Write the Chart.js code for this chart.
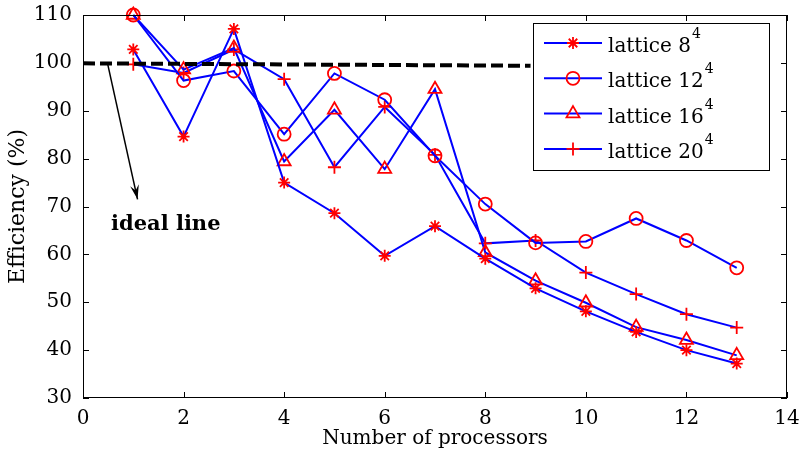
<!DOCTYPE html>
<html>
<head>
<meta charset="utf-8">
<title>Efficiency vs processors</title>
<script src="https://cdn.jsdelivr.net/npm/chart.js@4/dist/chart.umd.min.js"></script>
<style>
  html, body { margin: 0; padding: 0; background: #fff; }
  #wrap { width: 806px; height: 455px; }
</style>
</head>
<body>
<div id="wrap"><canvas id="chart" width="806" height="455"></canvas></div>
<script>
// measured efficiency per lattice size
const processors = [1, 2, 3, 4, 5, 6, 7, 8, 9, 10, 11, 12, 13];
const lattice8  = [102.8, 84.6, 107.1, 75.0, 68.6, 59.7, 65.9, 59.1, 52.9, 48.1, 43.8, 40.0, 37.2];
const lattice12 = [110.0, 96.3, 98.3, 85.1, 97.8, 92.3, 80.6, 70.5, 62.4, 62.7, 67.5, 62.9, 57.2];
const lattice16 = [110.0, 98.6, 103.1, 79.4, 90.2, 77.8, 94.5, 60.4, 54.5, 49.9, 44.8, 42.1, 38.9];
const lattice20 = [99.7, 97.9, 102.8, 96.6, 78.2, 90.8, 80.8, 62.3, 62.9, 56.2, 51.7, 47.5, 44.7];

const seriesNames = ['lattice 8', 'lattice 12', 'lattice 16', 'lattice 20'];
const seriesMarkers = ['star', 'circle', 'triangle', 'cross'];
const seriesRadius = [6, 6.5, 7.5, 6.5];
const seriesData = [lattice8, lattice12, lattice16, lattice20];

// ideal line endpoints
const idealX = [0, 8.9];
const idealY = [99.9, 99.4];

const xTicks = [0, 2, 4, 6, 8, 10, 12, 14];
const yTicks = [30, 40, 50, 60, 70, 80, 90, 100, 110];

const FONT = '"DejaVu Serif", serif';
const LINE_BLUE = '#0000ff';
const MARK_RED = '#ff0000';

const datasets = seriesData.map((vals, i) => ({
  label: seriesNames[i],
  data: processors.map((p, j) => ({ x: p, y: vals[j] })),
  borderColor: LINE_BLUE,
  borderWidth: 2,
  pointStyle: seriesMarkers[i],
  pointRadius: seriesRadius[i],
  pointBorderColor: MARK_RED,
  pointBackgroundColor: 'rgba(0,0,0,0)',
  pointBorderWidth: 1.8,
  tension: 0,
  clip: false,
  order: 2
}));

datasets.push({
  label: 'ideal',
  data: idealX.map((x, i) => ({ x: x, y: idealY[i] })),
  borderColor: '#000',
  borderWidth: 4,
  borderDash: [12, 5],
  pointRadius: 0,
  order: 1
});

// box, inward ticks, arrow annotation and legend
const decorPlugin = {
  id: 'decor',
  afterDatasetsDraw(chart) {
    const ctx = chart.ctx;
    const a = chart.chartArea;
    const xs = chart.scales.x, ys = chart.scales.y;
    ctx.save();

    // frame
    ctx.strokeStyle = '#000';
    ctx.lineWidth = 1;
    ctx.strokeRect(a.left + 0.5, a.top + 0.5, a.right - a.left - 1, a.bottom - a.top - 1);

    // inward ticks on all four sides
    ctx.beginPath();
    xTicks.forEach(v => {
      const px = Math.round(xs.getPixelForValue(v)) + 0.5;
      ctx.moveTo(px, a.bottom); ctx.lineTo(px, a.bottom - 6);
      ctx.moveTo(px, a.top); ctx.lineTo(px, a.top + 6);
    });
    yTicks.forEach(v => {
      const py = Math.round(ys.getPixelForValue(v)) + 0.5;
      ctx.moveTo(a.left, py); ctx.lineTo(a.left + 6, py);
      ctx.moveTo(a.right, py); ctx.lineTo(a.right - 6, py);
    });
    ctx.stroke();

    // arrow pointing at the ideal line
    const x0 = xs.getPixelForValue(0.49), y0 = ys.getPixelForValue(99.8);
    const x1 = xs.getPixelForValue(1.085), y1 = ys.getPixelForValue(71.5);
    ctx.strokeStyle = '#000';
    ctx.lineWidth = 1.5;
    ctx.beginPath();
    ctx.moveTo(x0, y0);
    ctx.lineTo(x1, y1);
    ctx.stroke();
    const ang = Math.atan2(y1 - y0, x1 - x0);
    const hl = 15, hw = 0.3;
    ctx.fillStyle = '#000';
    ctx.beginPath();
    ctx.moveTo(x1, y1);
    ctx.lineTo(x1 - hl * Math.cos(ang - hw), y1 - hl * Math.sin(ang - hw));
    ctx.lineTo(x1 - hl * 0.6 * Math.cos(ang), y1 - hl * 0.6 * Math.sin(ang));
    ctx.lineTo(x1 - hl * Math.cos(ang + hw), y1 - hl * Math.sin(ang + hw));
    ctx.closePath();
    ctx.fill();

    ctx.font = 'bold 21px ' + FONT;
    ctx.textBaseline = 'alphabetic';
    ctx.textAlign = 'left';
    ctx.fillText('ideal line', 111, ys.getPixelForValue(65.0));

    // legend
    const lx = a.right - 254, ly = a.top + 8, lw = 236, lh = 147;
    ctx.fillStyle = '#fff';
    ctx.fillRect(lx, ly, lw, lh);
    ctx.strokeStyle = '#000';
    ctx.lineWidth = 1;
    ctx.strokeRect(lx + 0.5, ly + 0.5, lw, lh);
    const sup = ['4', '4', '4', '4'];
    seriesNames.forEach((name, i) => {
      const ry = ly + 20 + i * 35.3;
      ctx.strokeStyle = LINE_BLUE;
      ctx.lineWidth = 2;
      ctx.beginPath();
      ctx.moveTo(lx + 11, ry); ctx.lineTo(lx + 69, ry);
      ctx.stroke();
      ctx.strokeStyle = MARK_RED;
      ctx.fillStyle = 'rgba(0,0,0,0)';
      ctx.lineWidth = 1.8;
      Chart.helpers.drawPoint(ctx, {
        pointStyle: seriesMarkers[i], radius: seriesRadius[i], rotation: 0, borderWidth: 1.8
      }, lx + 40, ry);
      ctx.fillStyle = '#000';
      ctx.font = '20px ' + FONT;
      ctx.textBaseline = 'alphabetic';
      ctx.fillText(name, lx + 75, ry + 9);
      const w = ctx.measureText(name).width;
      ctx.font = '14px ' + FONT;
      ctx.fillText(sup[i], lx + 75 + w + 1, ry - 5);
    });
    ctx.restore();
  }
};

new Chart(document.getElementById('chart'), {
  type: 'line',
  data: { datasets: datasets },
  options: {
    responsive: false,
    animation: false,
    layout: { padding: { top: 10, right: 19, left: 0, bottom: 0 } },
    plugins: { legend: { display: false }, tooltip: { enabled: false } },
    scales: {
      x: {
        type: 'linear',
        min: 0, max: 14,
        afterFit: s => { s.height = 57; },
        afterBuildTicks: s => { s.ticks = xTicks.map(v => ({ value: v })); },
        grid: { display: false },
        border: { display: false },
        ticks: { color: '#000', padding: 1, font: { family: FONT, size: 20 } },
        title: {
          display: true, text: 'Number of processors', color: '#000',
          font: { family: FONT, size: 20 }, padding: { top: 4, bottom: 4 }
        }
      },
      y: {
        type: 'linear',
        min: 30, max: 110,
        afterFit: s => { s.width = 83; },
        afterBuildTicks: s => { s.ticks = yTicks.map(v => ({ value: v })); },
        grid: { display: false },
        border: { display: false },
        ticks: { color: '#000', padding: 3, font: { family: FONT, size: 20 } },
        title: {
          display: true, text: 'Efficiency (%)', color: '#000',
          font: { family: FONT, size: 22 }, padding: { top: 5, bottom: 5 }
        }
      }
    }
  },
  plugins: [decorPlugin]
});
</script>
</body>
</html>
